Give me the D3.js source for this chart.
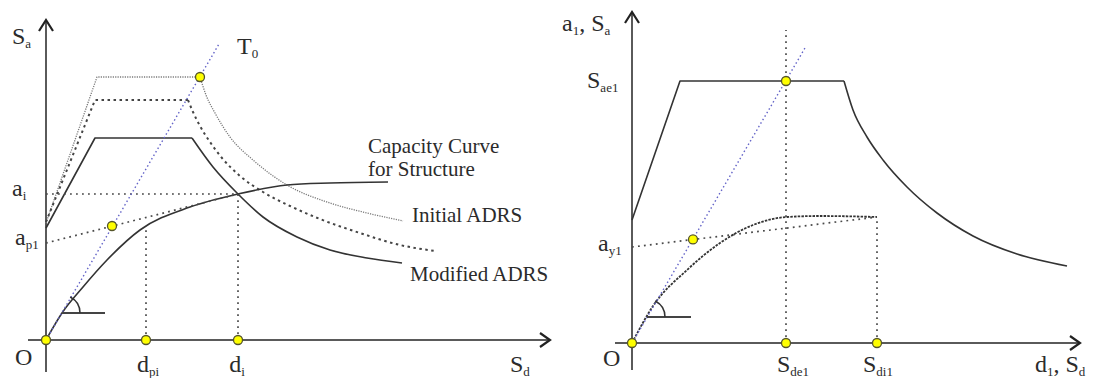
<!DOCTYPE html>
<html><head><meta charset="utf-8">
<script src="https://cdn.jsdelivr.net/npm/d3@7"></script>
<style>
html,body{margin:0;padding:0;background:#fff;}
svg{display:block;}
svg text{font-family:'Liberation Serif','Tinos','DejaVu Serif',serif;fill:#2b2b2b;}
</style></head><body>
<svg id="chart" width="1100" height="378"></svg>
<script>
// Capacity spectrum method: spectral displacement Sd (cm) vs spectral acceleration Sa (g)

// ---- Left panel: demand spectra and capacity curve ----
const initialRise  = [[0,0.585],[5.1,1.315],[15.4,1.315]];
const initialFall  = [[15.4,1.315],[16.0,1.225],[16.9,1.135],[18.4,1.015],[20.7,0.9],[24.1,0.775],[28.4,0.685],[32.1,0.635],[35.7,0.595]];
const reducedRise  = [[0,0.59],[4.9,1.2],[14.2,1.2]];
const reducedFall  = [[14.2,1.2],[14.7,1.14],[15.4,1.07],[16.4,0.99],[17.6,0.91],[19.4,0.82],[21.7,0.74],[24.4,0.67],[27.4,0.605],[31.4,0.535],[35.4,0.475],[38.9,0.445]];
const modifiedRise = [[0,0.56],[4.9,1.01],[14.6,1.01]];
const modifiedFall = [[14.6,1.01],[16.7,0.865],[19.1,0.735],[21.7,0.615],[25.1,0.515],[28.4,0.45],[32.1,0.41],[35.6,0.385]];
const capacityLeft = [[0,0],[1.6,0.135],[3.7,0.265],[6.1,0.4],[9.4,0.55],[14.4,0.665],[19.2,0.73],[24.1,0.775],[28.4,0.785],[34.2,0.79]];
const periodLeft   = [[0,0],[17.3,1.48]];
const dpi = 10.0, di = 19.2, ai = 0.73, ap1 = 0.485, capAtDpi = 0.57;
const pointsLeft   = [[0,0],[dpi,0],[di,0],[6.6,0.57],[15.4,1.315]];

// ---- Right panel: elastic spectrum and bilinear capacity ----
const spectrumRise = [[0,0.615],[4.8,1.31],[21.2,1.31]];
const spectrumFall = [[21.2,1.31],[22.1,1.165],[23.5,1.03],[25.1,0.915],[27.5,0.78],[30.5,0.65],[34.1,0.535],[38.5,0.445],[43.5,0.385]];
const capacityRight = [[0,0],[2.1,0.185],[5.5,0.365],[8.8,0.5],[12.1,0.59],[15.5,0.63],[18.8,0.635],[24.5,0.63]];
const periodRight  = [[0,0],[17.3,1.475]];
const Sde1 = 15.4, Sdi1 = 24.5, Sae1 = 1.31, ay1 = 0.48, capEnd = 0.63;
const pointsRight  = [[0,0],[Sde1,0],[Sdi1,0],[6.1,0.518],[Sde1,Sae1]];

const svg = d3.select("#chart");

const xL = d3.scaleLinear().domain([0,50]).range([46,546]);
const yL = d3.scaleLinear().domain([0,1.6]).range([340,20]);
const xR = d3.scaleLinear().domain([0,45]).range([632,1082]);
const yR = d3.scaleLinear().domain([0,1.6]).range([343,23]);

const styles = {
  axis:     {stroke:"#5a5a5a", width:2, dash:null},
  solid:    {stroke:"#333", width:1.6, dash:null},
  initial:  {stroke:"#7a7a7a", width:1.3, dash:"1.2,1.2"},
  dashed:   {stroke:"#444", width:2, dash:"2.5,3.5"},
  capDash:  {stroke:"#333", width:1.8, dash:"2.5,1.2"},
  guide:    {stroke:"#4a4a4a", width:1.7, dash:"1.8,4.2"},
  period:   {stroke:"#6464c8", width:1.4, dash:"1.5,2.6"}
};

function draw(g, data, x, y, st, curve) {
  const line = d3.line().x(d => x(d[0])).y(d => y(d[1])).curve(curve || d3.curveLinear);
  g.append("path").attr("d", line(data))
    .attr("fill","none").attr("stroke", st.stroke).attr("stroke-width", st.width)
    .attr("stroke-dasharray", st.dash).attr("stroke-linejoin","round");
}

function arrowAxes(g, x, y, xMin, xMax, yMin, yMax) {
  const st = styles.axis;
  draw(g, [[xMin,0],[xMax,0]], x, y, st);
  draw(g, [[0,yMin],[0,yMax]], x, y, st);
  const ex = x(xMax), ey = y(0), tx = x(0), ty = y(yMax);
  g.append("path").attr("d", `M${ex-10},${ey-7}L${ex},${ey}L${ex-10},${ey+7}`)
    .attr("fill","none").attr("stroke","#222").attr("stroke-width",2.2);
  g.append("path").attr("d", `M${tx-7},${ty+11}L${tx},${ty}L${tx+7},${ty+11}`)
    .attr("fill","none").attr("stroke","#222").attr("stroke-width",2.2);
}

function angleMark(g, cx, cy, len) {
  g.append("line").attr("x1",cx).attr("y1",cy).attr("x2",cx+len).attr("y2",cy)
    .attr("stroke","#444").attr("stroke-width",1.8);
  const p = d3.path();
  const a0 = -63*Math.PI/180;
  p.moveTo(cx+18*Math.cos(a0), cy+18*Math.sin(a0));
  p.arc(cx, cy, 18, a0, 0);
  g.append("path").attr("d", p.toString()).attr("fill","none")
    .attr("stroke","#333").attr("stroke-width",1.5);
}

function dots(g, pts, x, y) {
  g.selectAll("circle.pt").data(pts).enter().append("circle")
    .attr("cx", d => x(d[0])).attr("cy", d => y(d[1])).attr("r", 4.5)
    .attr("fill","#ffff00").attr("stroke","#55552a").attr("stroke-width",1.3);
}

// parts: [text, isSubscript]
function label(g, x, y, parts, opts) {
  const o = Object.assign({size:24, sub:13, anchor:"start"}, opts || {});
  const t = g.append("text").attr("x",x).attr("y",y)
    .attr("font-size",o.size).attr("text-anchor",o.anchor)
    .style("font-family","'Liberation Serif','Tinos','DejaVu Serif',serif");
  let inSub = false;
  parts.forEach(([s, sub]) => {
    const ts = t.append("tspan").text(s);
    if (sub && !inSub) { ts.attr("dy",4).attr("font-size",o.sub); inSub = true; }
    else if (sub) { ts.attr("font-size",o.sub); }
    else if (!sub && inSub) { ts.attr("dy",-4); inSub = false; }
  });
}

// ---------- Left panel ----------
const gl = svg.append("g");
arrowAxes(gl, xL, yL, -1.8, 50.4, -0.16, 1.6);

draw(gl, initialRise, xL, yL, styles.initial);
draw(gl, initialFall, xL, yL, styles.initial, d3.curveMonotoneX);
draw(gl, reducedRise, xL, yL, styles.dashed);
draw(gl, reducedFall, xL, yL, styles.dashed, d3.curveMonotoneX);
draw(gl, modifiedRise, xL, yL, styles.solid);
draw(gl, modifiedFall, xL, yL, styles.solid, d3.curveMonotoneX);
draw(gl, capacityLeft, xL, yL, styles.solid, d3.curveMonotoneX);

draw(gl, [[0,ai],[di,ai]], xL, yL, styles.guide);
draw(gl, [[0,ap1],[di,ai]], xL, yL, styles.guide);
draw(gl, [[dpi,0],[dpi,capAtDpi]], xL, yL, styles.guide);
draw(gl, [[di,0],[di,ai]], xL, yL, styles.guide);
draw(gl, periodLeft, xL, yL, styles.period);

angleMark(gl, xL(1.6), yL(0.135), 43);
dots(gl, pointsLeft, xL, yL);

label(gl, xL(0)-34, yL(1.6)+24, [["S"],["a",1]]);
label(gl, xL(19.1), yL(1.43), [["T"],["0",1]]);
label(gl, xL(0)-34, yL(ai)+2, [["a"],["i",1]]);
label(gl, xL(0)-31, yL(ap1)+2, [["a"],["p1",1]]);
label(gl, xL(0)-31, yL(0)+25, [["O"]]);
label(gl, xL(dpi)+2, yL(0)+32, [["d"],["pi",1]], {anchor:"middle"});
label(gl, xL(di)-1, yL(0)+32, [["d"],["i",1]], {anchor:"middle"});
label(gl, xL(46.4), yL(0)+32, [["S"],["d",1]]);

const notes = [
  ["Capacity Curve", 32.2, 0.935],
  ["for Structure", 32.2, 0.82],
  ["Initial ADRS", 36.6, 0.59],
  ["Modified ADRS", 36.4, 0.295]
];
notes.forEach(([s, u, v]) => label(gl, xL(u), yL(v), [[s]], {size:21}));

// ---------- Right panel ----------
const gr = svg.append("g");
arrowAxes(gr, xR, yR, -1.7, 44.8, -0.135, 1.655);

draw(gr, spectrumRise, xR, yR, styles.solid);
draw(gr, spectrumFall, xR, yR, styles.solid, d3.curveMonotoneX);
draw(gr, capacityRight, xR, yR, styles.capDash, d3.curveMonotoneX);

draw(gr, [[0,ay1],[Sdi1,capEnd]], xR, yR, styles.guide);
draw(gr, [[Sde1,0],[Sde1,1.565]], xR, yR, styles.guide);
draw(gr, [[Sdi1,0],[Sdi1,capEnd]], xR, yR, styles.guide);
draw(gr, periodRight, xR, yR, styles.period);

angleMark(gr, xR(1.5), yR(0.13), 44);
dots(gr, pointsRight, xR, yR);

label(gr, xR(0)-70, 31, [["a"],["1",1],[", S"],["a",1]]);
label(gr, xR(0)-45, yR(Sae1)+7, [["S"],["ae1",1]]);
label(gr, xR(0)-34, yR(ay1)+4, [["a"],["y1",1]]);
label(gr, xR(0)-29, yR(0)+23, [["O"]]);
label(gr, xR(Sde1)+7, yR(0)+29, [["S"],["de1",1]], {anchor:"middle"});
label(gr, xR(Sdi1)+1, yR(0)+29, [["S"],["di1",1]], {anchor:"middle"});
label(gr, xR(40.3), yR(0)+29, [["d"],["1",1],[", S"],["d",1]]);
</script>
</body></html>
